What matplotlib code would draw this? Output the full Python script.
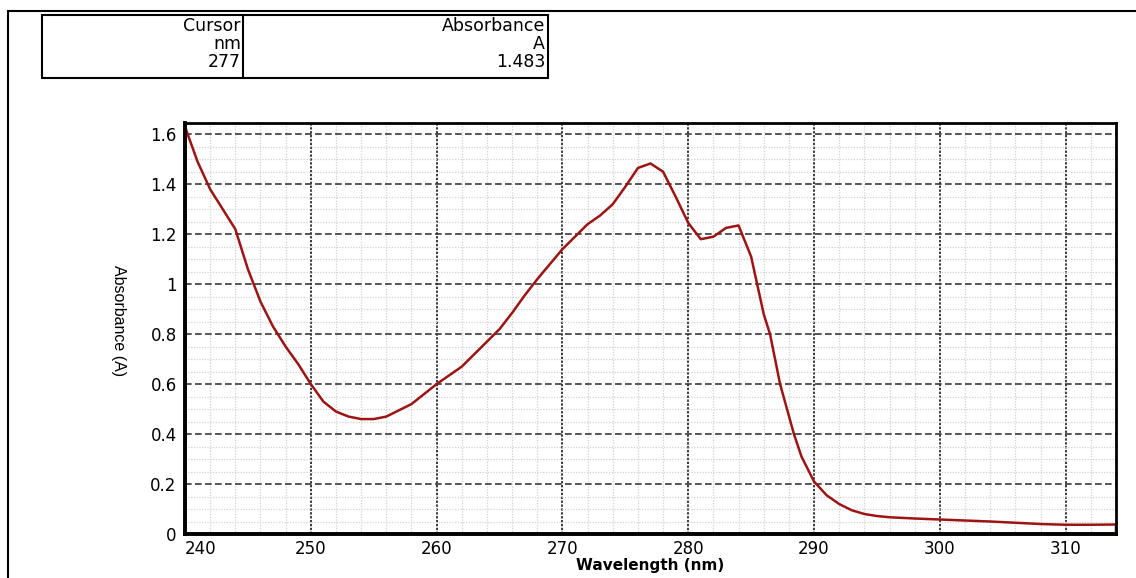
import matplotlib
matplotlib.use('Agg')
import matplotlib.pyplot as plt
from matplotlib.patches import Rectangle
import numpy as np

plt.rcParams['font.family'] = ['DejaVu Sans']

# ------------------------------------------------------------------
#  Data (nm, absorbance)
# ------------------------------------------------------------------
wavelength = [240, 240, 241, 242, 243, 244, 245, 246, 247, 248, 249,
              250, 251, 252, 253, 254, 255, 256, 257, 258, 259,
              260, 261, 262, 263, 264, 265, 266, 267, 268, 269,
              270, 271, 272, 273, 274, 275, 276, 277, 278, 279,
              280, 281, 282, 283, 284, 285, 286, 286.5, 287.3, 288.4, 289,
              290, 291, 292, 293, 294, 295, 296, 298, 300, 302, 304,
              306, 308, 310, 312, 314, 314]
absorbance = [0.0, 1.63, 1.49, 1.38, 1.30, 1.22, 1.06, 0.93, 0.83, 0.75, 0.68,
              0.60, 0.53, 0.49, 0.47, 0.46, 0.46, 0.47, 0.495, 0.52, 0.56,
              0.60, 0.635, 0.67, 0.72, 0.77, 0.82, 0.885, 0.955, 1.02, 1.08,
              1.14, 1.19, 1.24, 1.275, 1.32, 1.39, 1.465, 1.483, 1.45, 1.35,
              1.245, 1.18, 1.19, 1.225, 1.235, 1.11, 0.88, 0.80, 0.60, 0.40, 0.31,
              0.21, 0.155, 0.12, 0.095, 0.08, 0.072, 0.067, 0.062, 0.058, 0.054, 0.05,
              0.045, 0.04, 0.037, 0.037, 0.038, 0.0]

cursor_header = ['Cursor', 'nm', '277']
value_header  = ['Absorbance', 'A', '1.483']

X_RANGE = (240, 314)
Y_RANGE = (0, 1.645)

fig = plt.figure(figsize=(11.36, 5.78), dpi=100)

# outer panel frame (runs off the right and bottom edges)
fig.add_artist(Rectangle((8 / 1136, -0.05), 1.2, (578 - 11) / 578 + 0.05,
                         transform=fig.transFigure, fill=False,
                         edgecolor='black', lw=1.5))

# cursor readout table
tx0, tx1, tdiv = 42 / 1136, 548 / 1136, 243 / 1136
ty0, ty1 = 1 - 78 / 578, 1 - 15 / 578
fig.add_artist(Rectangle((tx0, ty0), tx1 - tx0, ty1 - ty0,
                         transform=fig.transFigure, fill=False,
                         edgecolor='black', lw=1.5))
fig.add_artist(plt.Line2D([tdiv, tdiv], [ty0, ty1], transform=fig.transFigure,
                          color='black', lw=1.5))
row_y = [26, 44, 62]
for txt_l, txt_r, ry in zip(cursor_header, value_header, row_y):
    fig.text(tdiv - 2 / 1136, 1 - ry / 578, txt_l, ha='right', va='center', fontsize=12.5)
    fig.text(tx1 - 3 / 1136, 1 - ry / 578, txt_r, ha='right', va='center', fontsize=12.5)

# spectrum axes
ax = fig.add_axes([185 / 1136, 44 / 578, (1116 - 185) / 1136, (534 - 123) / 578])
ax.set_xlim(*X_RANGE)
ax.set_ylim(*Y_RANGE)

ax.set_xticks(np.arange(240, 311, 10))
ax.set_xticks(np.arange(240, 315, 2), minor=True)
ax.set_yticks(np.arange(0, 1.61, 0.2))
ax.set_yticks(np.arange(0, 1.64, 0.05), minor=True)
ax.set_yticklabels(['0', '0.2', '0.4', '0.6', '0.8', '1', '1.2', '1.4', '1.6'])

ax.grid(which='minor', color='#d2d2d2', lw=0.9, linestyle=(0, (1, 1.2)))
ax.grid(which='major', axis='y', color='#3a3a3a', lw=1.2, linestyle=(0, (4, 2)))
ax.grid(which='major', axis='x', color='#3a3a3a', lw=1.4, linestyle=(0, (1.2, 0.8)))
ax.set_axisbelow(True)

ax.tick_params(which='both', length=0, labelsize=12, pad=4)
ax.tick_params(axis='y', pad=6)
ax.get_xticklabels()[0].set_horizontalalignment('left')

for side in ['top', 'right']:
    ax.spines[side].set_linewidth(2)
for side in ['left', 'bottom']:
    ax.spines[side].set_linewidth(2.8)

ax.plot(wavelength, absorbance, color='#9c1414', lw=1.8, clip_on=False, zorder=2)

ax.set_xlabel('Wavelength (nm)', fontsize=11, fontweight='bold', labelpad=0)
ax.set_ylabel('Absorbance (A)', fontsize=11.5, rotation=270, family='Liberation Sans')
ax.yaxis.set_label_coords(-0.08, 0.52)

fig.savefig('out.png', dpi=100)
